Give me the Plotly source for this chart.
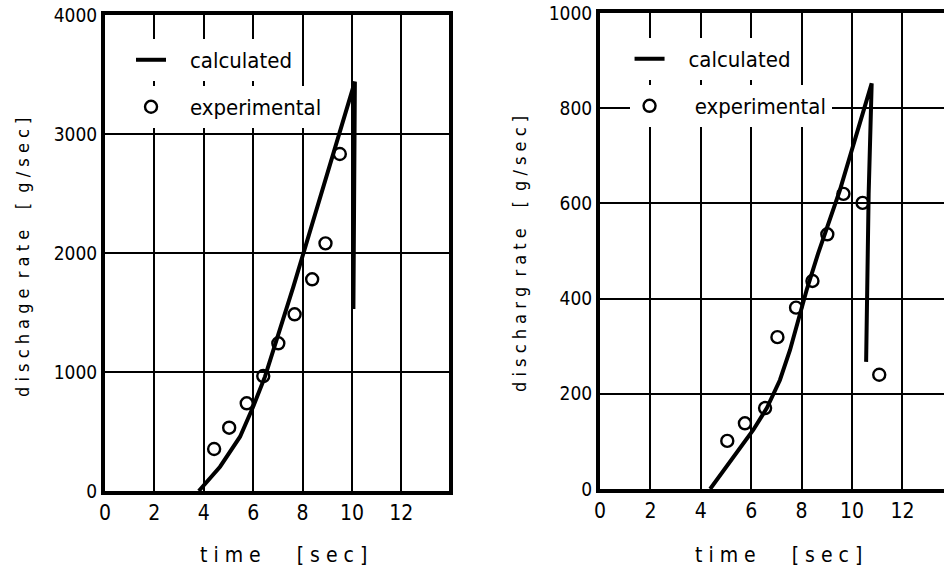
import plotly.graph_objects as go
from plotly.subplots import make_subplots

# Left panel data
calc1_t = [3.8, 4.66, 5.47, 6.0, 6.48, 6.81, 7.15, 7.63, 10.12, 10.09, 10.06]
calc1_v = [0, 204, 456, 708, 961, 1185, 1409, 1717, 3440, 2500, 1530]
exp1_t = [4.42, 5.03, 5.74, 6.41, 7.02, 7.68, 8.39, 8.93, 9.51]
exp1_v = [353, 532, 737, 966, 1241, 1485, 1779, 2081, 2832]

# Right panel data
calc2_t = [4.37, 5.29, 6.08, 6.62, 7.14, 7.54, 7.87, 8.2, 8.65, 9.52, 10.78, 10.66, 10.56]
calc2_v = [0, 68, 124, 170, 229, 292, 355, 418, 494, 628, 852, 620, 267]
exp2_t = [5.05, 5.75, 6.55, 7.04, 7.78, 8.43, 9.02, 9.66, 10.42, 11.08]
exp2_v = [101, 138, 170, 319, 381, 437, 535, 620, 601, 240]

x_ticks = [0, 2, 4, 6, 8, 10, 12]
y1_ticks = [0, 1000, 2000, 3000, 4000]
y2_ticks = [0, 200, 400, 600, 800, 1000]

FONT = "DejaVu Sans Condensed, sans-serif"
NB = "\u00a0"

fig = make_subplots(rows=1, cols=2)

line_style = dict(color="black", width=4)
marker_style = dict(symbol="circle-open", size=12, color="black",
                    line=dict(width=2.4, color="black"))

fig.add_trace(go.Scatter(x=calc1_t, y=calc1_v, mode="lines", name=NB * 3 + "calculated",
                         line=line_style, legend="legend"), 1, 1)
fig.add_trace(go.Scatter(x=exp1_t, y=exp1_v, mode="markers", name=NB * 3 + "experimental",
                         marker=marker_style, legend="legend2"), 1, 1)
fig.add_trace(go.Scatter(x=calc2_t, y=calc2_v, mode="lines", name=NB * 3 + "calculated",
                         line=line_style, legend="legend3"), 1, 2)
fig.add_trace(go.Scatter(x=exp2_t, y=exp2_v, mode="markers", name=NB * 4 + "experimental",
                         marker=marker_style, legend="legend4"), 1, 2)

axis_common = dict(showgrid=True, gridcolor="black", gridwidth=1.6, zeroline=False,
                   showline=True, linecolor="black", linewidth=4, ticks="",
                   automargin=False)

fig.update_xaxes(**axis_common, tickvals=x_ticks, mirror=True,
                 tickfont=dict(family=FONT, size=21, color="black"))
fig.update_yaxes(**axis_common, tickfont=dict(family=FONT, size=19, color="black"))


def leg(x, y):
    return dict(x=x, y=y, xref="paper", yref="paper", xanchor="left", yanchor="middle",
                bgcolor="white", borderwidth=0,
                font=dict(family=FONT, size=22, color="black"), itemwidth=30)


title_font = dict(family=FONT, size=18, color="black")
xtitle_font = dict(family=FONT, size=21, color="black")

fig.update_layout(
    width=944, height=569,
    margin=dict(l=0, r=0, t=0, b=0, autoexpand=False),
    paper_bgcolor="white", plot_bgcolor="white",
    font=dict(family=FONT, color="black"),
    showlegend=True,
    xaxis=dict(domain=[0.1112, 0.4756], range=[0, 13.93]),
    yaxis=dict(domain=[0.1371, 0.9736], range=[0, 4000], tickvals=y1_ticks, mirror=True),
    xaxis2=dict(domain=[0.6356, 1.0], range=[0, 13.65]),
    yaxis2=dict(domain=[0.1406, 0.9772], range=[0, 1000], tickvals=y2_ticks, mirror=False),
    legend=leg(0.1388, 0.8946),
    legend2=leg(0.1388, 0.8120),
    legend3=leg(0.6669, 0.8963),
    legend4=leg(0.6669, 0.8137),
    annotations=[
        dict(text="d i s c h a g e  r a t e    [  g / s e c ]", x=0.0233, y=0.5483,
             xref="paper", yref="paper", xanchor="center", yanchor="middle",
             textangle=-90, showarrow=False, font=title_font),
        dict(text="d i s c h a r g  r a t e    [  g / s e c ]", x=0.5498, y=0.5536,
             xref="paper", yref="paper", xanchor="center", yanchor="middle",
             textangle=-90, showarrow=False, font=title_font),
        dict(text="t i m e      [ s e c ]", x=0.2998, y=0.0246, xref="paper", yref="paper",
             xanchor="center", yanchor="middle", showarrow=False, font=xtitle_font),
        dict(text="t i m e      [ s e c ]", x=0.8252, y=0.0246, xref="paper", yref="paper",
             xanchor="center", yanchor="middle", showarrow=False, font=xtitle_font),
    ],
)

fig.write_html("out.html", config={"displayModeBar": False},
               post_script="document.body.style.margin = '0px';")
